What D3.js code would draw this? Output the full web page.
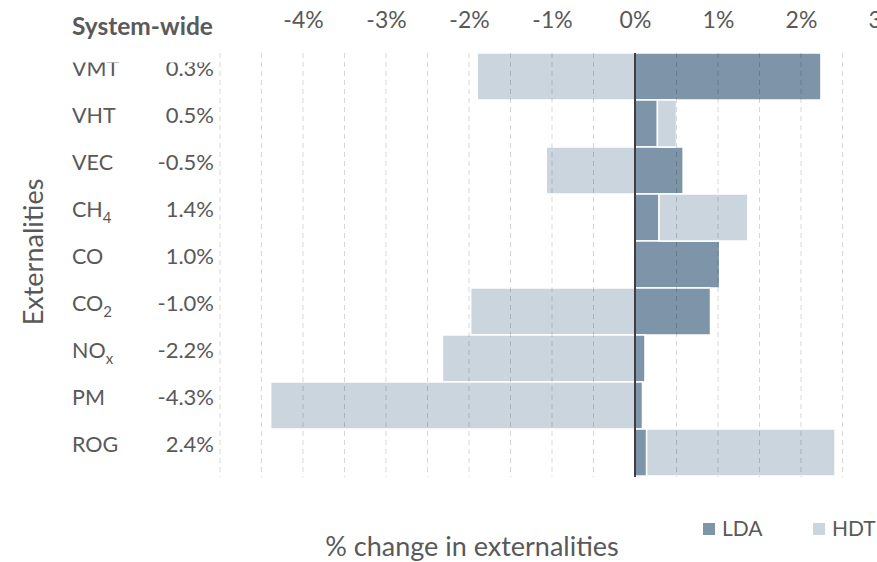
<!DOCTYPE html>
<html>
<head>
<meta charset="utf-8">
<script src="https://cdn.jsdelivr.net/npm/d3@7"></script>
<style>
  body { margin: 0; background: #fff; }
  svg text { font-family: Lato, "Open Sans", sans-serif; fill: #595959; }
</style>
</head>
<body>
<svg id="chart" width="877" height="562"></svg>
<script>
// categories, with optional subscript part
var categories = ["VMT", "VHT", "VEC", "CH4", "CO", "CO2", "NOx", "PM", "ROG"];
var catMain = ["VMT", "VHT", "VEC", "CH", "CO", "CO", "NO", "PM", "ROG"];
var catSub = ["", "", "", "4", "", "2", "x", "", ""];
var systemWide = ["0.3%", "0.5%", "-0.5%", "1.4%", "1.0%", "-1.0%", "-2.2%", "-4.3%", "2.4%"];

// % change by vehicle class
var lda = [2.24, 0.27, 0.58, 0.29, 1.02, 0.91, 0.12, 0.09, 0.14];
var hdt = [-1.90, 0.23, -1.07, 1.07, 0.0, -1.98, -2.32, -4.39, 2.27];

var seriesNames = ["LDA", "HDT"];
var colors = { LDA: "#7e94a8", HDT: "#cbd5de" };
var tickValues = [-4, -3, -2, -1, 0, 1, 2, 3];
var gridValues = d3.range(-5, 3, 0.5);

var svg = d3.select("#chart");

var x = d3.scaleLinear().domain([-5, 3]).range([220, 884]);
var y = d3.scaleBand().domain(categories).range([53, 476]).padding(0);

// stacked table for the library
var table = categories.map(function(c, i) { return { cat: c, LDA: lda[i], HDT: hdt[i] }; });
var stack = d3.stack().keys(seriesNames).offset(d3.stackOffsetDiverging);
var layers = stack(table);

// bars
svg.append("g").selectAll("g")
    .data(layers)
    .enter().append("g")
        .attr("fill", function(d) { return colors[d.key]; })
    .selectAll("rect")
    .data(function(d) { return d; })
    .enter().append("rect")
        .attr("x", function(d) { return x(Math.min(d[0], d[1])); })
        .attr("width", function(d) { return Math.abs(x(d[1]) - x(d[0])); })
        .attr("y", function(d) { return y(d.data.cat); })
        .attr("height", y.bandwidth())
        .attr("stroke", "#fff")
        .attr("stroke-width", 1.5);

// dashed gridlines (drawn over the bars)
svg.append("g").selectAll("line")
    .data(gridValues.filter(function(v) { return v !== 0; }))
    .enter().append("line")
        .attr("x1", function(d) { return x(d); })
        .attr("x2", function(d) { return x(d); })
        .attr("y1", 53)
        .attr("y2", 477)
        .attr("stroke", "rgba(0,0,0,0.16)")
        .attr("stroke-width", 1)
        .attr("stroke-dasharray", "5,4");

// zero line
svg.append("line")
    .attr("x1", x(0)).attr("x2", x(0))
    .attr("y1", 53).attr("y2", 477)
    .attr("stroke", "#3f3f3f")
    .attr("stroke-width", 2);

// top axis
var xAxis = d3.axisTop(x).tickValues(tickValues)
    .tickFormat(function(d) { return d + "%"; }).tickSize(0);
var ax = svg.append("g").attr("transform", "translate(0,31)").call(xAxis);
ax.select(".domain").remove();
ax.selectAll("text")
    .style("font-size", "23px")
    .attr("fill", "#595959");

// row labels (top row is cut a little, as in the source)
svg.append("defs").append("clipPath").attr("id", "labelClip")
    .append("rect").attr("x", 0).attr("y", 62.5).attr("width", 220).attr("height", 450);

var labels = svg.append("g").attr("clip-path", "url(#labelClip)");
var nameText = labels.selectAll("text.name")
    .data(categories)
    .enter().append("text")
        .attr("class", "name")
        .attr("x", 72)
        .attr("y", function(d) { return y(d) + y.bandwidth() / 2 - 1; })
        .style("font-size", "21.5px");
nameText.append("tspan").text(function(d, i) { return catMain[i]; });
nameText.append("tspan")
    .attr("dy", 6)
    .style("font-size", "15px")
    .text(function(d, i) { return catSub[i]; });

labels.selectAll("text.val")
    .data(categories)
    .enter().append("text")
        .attr("class", "val")
        .attr("x", 214)
        .attr("text-anchor", "end")
        .attr("y", function(d) { return y(d) + y.bandwidth() / 2 - 1; })
        .style("font-size", "22px")
        .text(function(d, i) { return systemWide[i]; });

svg.append("text")
    .attr("x", 72).attr("y", 35)
    .style("font-size", "24.5px")
    .style("font-weight", "bold")
    .text("System-wide");

// axis titles
svg.append("text")
    .attr("transform", "translate(43,252) rotate(-90)")
    .attr("text-anchor", "middle")
    .style("font-size", "27px")
    .text("Externalities");

svg.append("text")
    .attr("x", 472).attr("y", 556)
    .attr("text-anchor", "middle")
    .style("font-size", "27px")
    .text("% change in externalities");

// legend
var legend = svg.append("g").selectAll("g")
    .data(seriesNames)
    .enter().append("g")
        .attr("transform", function(d, i) { return "translate(" + (703 + i * 110) + ",523)"; });
legend.append("rect")
    .attr("width", 12).attr("height", 12)
    .attr("fill", function(d) { return colors[d]; });
legend.append("text")
    .attr("x", 19).attr("y", 13)
    .style("font-size", "21px")
    .text(function(d) { return d; });
</script>
</body>
</html>
